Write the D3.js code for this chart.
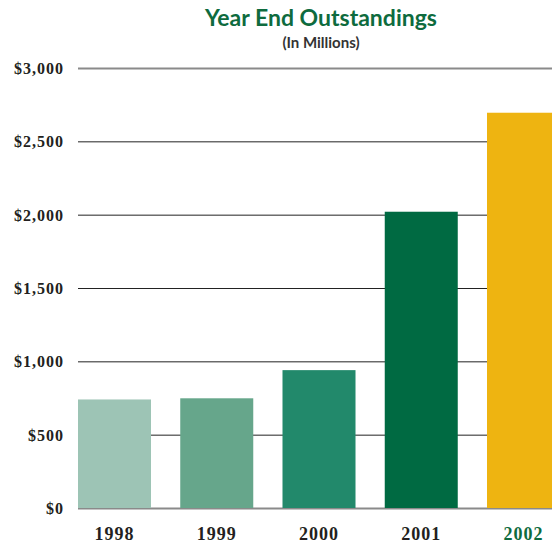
<!DOCTYPE html>
<html>
<head>
<meta charset="utf-8">
<style>
    body { margin: 0; background: #fff; }
    svg { display: block; }
    .title { font-family: Lato, 'Open Sans', sans-serif; font-weight: bold; }
    .y .tick text, .x .tick text {
        font-family: 'Liberation Serif', 'Times New Roman', serif;
        font-weight: bold;
        letter-spacing: 1px;
    }
    .domain { display: none; }
</style>
</head>
<body>
<svg width="552" height="545"></svg>
<script src="https://d3js.org/d3.v7.min.js"></script>
<script>
    // year end outstandings, in millions
    let years = ["1998", "1999", "2000", "2001", "2002"];
    let values = [740, 748, 940, 2020, 2695];
    let barColors = ["#9dc4b5", "#66a68b", "#22896b", "#006a42", "#eeb411"];
    let yTicks = [0, 500, 1000, 1500, 2000, 2500, 3000];

    let svg = d3.select("svg");
    let margin = { top: 68, left: 78, bottom: 508 };

    let x = d3.scaleBand()
        .domain(years)
        .range([margin.left, 560])
        .paddingInner(0.286)
        .paddingOuter(0);

    let y = d3.scaleLinear()
        .domain([0, 3000])
        .range([margin.bottom, margin.top]);

    // gridlines
    svg.append("g")
        .selectAll("line")
        .data(yTicks)
        .join("line")
        .attr("x1", margin.left)
        .attr("x2", 552)
        .attr("y1", d => y(d) + 0.5)
        .attr("y2", d => y(d) + 0.5)
        .style("stroke", d => (d == 0 || d == 3000) ? "#8a8a8a" : "#222")
        .style("stroke-width", d => (d == 0 || d == 3000) ? 2 : 1);

    // bars
    svg.append("g")
        .selectAll("rect")
        .data(years)
        .join("rect")
        .attr("x", d => x(d))
        .attr("width", x.bandwidth())
        .attr("y", (d, i) => y(values[i]))
        .attr("height", (d, i) => y(0) - y(values[i]))
        .style("fill", (d, i) => barColors[i]);

    let yAxis = d3.axisLeft(y)
        .tickValues(yTicks)
        .tickSize(0)
        .tickPadding(14)
        .tickFormat(d => "$" + d3.format(",")(d));

    svg.append("g")
        .attr("class", "y axis")
        .attr("transform", `translate(${margin.left},0)`)
        .call(yAxis)
        .selectAll("text")
        .style("font-size", "16px")
        .style("fill", "#231f20")
        .attr("dy", "0.35em");

    let xAxis = d3.axisBottom(x).tickSize(0).tickPadding(19);

    svg.append("g")
        .attr("class", "x axis")
        .attr("transform", `translate(0,${margin.bottom})`)
        .call(xAxis)
        .selectAll("text")
        .style("font-size", "18px")
        .style("fill", d => d == "2002" ? "#0e6b3e" : "#231f20");

    svg.append("text")
        .attr("class", "title")
        .attr("x", 321)
        .attr("y", 26)
        .attr("text-anchor", "middle")
        .style("font-size", "23px")
        .style("fill", "#0e6b3e")
        .text("Year End Outstandings");

    svg.append("text")
        .attr("class", "title")
        .attr("x", 321)
        .attr("y", 48)
        .attr("text-anchor", "middle")
        .style("font-size", "15px")
        .style("fill", "#333")
        .text("(In Millions)");
</script>
</body>
</html>
